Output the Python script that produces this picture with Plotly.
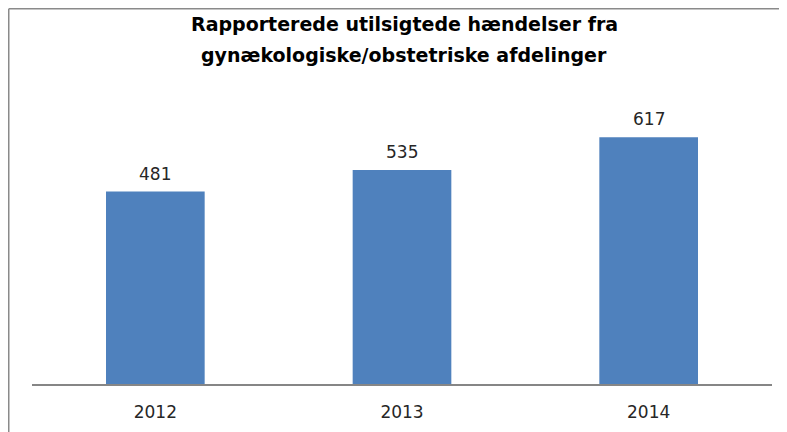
import plotly.graph_objects as go

years = ["2012", "2013", "2014"]
counts = [481, 535, 617]
title_lines = ["Rapporterede utilsigtede hændelser fra", "gynækologiske/obstetriske afdelinger"]

W, H = 787, 432
ml, mr, mt, mb = 24, 23, 96, 56
pw = W - ml - mr
ph = H - mt - mb

def px_x(p):
    return (p - ml) / pw

def px_y(p):
    return (H - mb - p) / ph

fig = go.Figure(go.Bar(
    x=years, y=counts,
    marker=dict(color="#4F81BD", line=dict(width=0)),
    width=0.4,
))

annotations = []
for i, c in enumerate(counts):
    # category axis: numeric x = index of the category in `years`
    annotations.append(dict(
        x=i, y=c, xref="x", yref="y", text=str(c), showarrow=False,
        yanchor="bottom", yshift=6,
        font=dict(family="DejaVu Sans", size=17, color="#262626"),
    ))
for line, yc in zip(title_lines, [16, 47]):
    annotations.append(dict(
        x=px_x(396), y=px_y(yc), xref="paper", yref="paper",
        text="<b>" + line + "</b>", showarrow=False,
        xanchor="center", yanchor="middle",
        font=dict(family="DejaVu Sans", size=19, color="#000000"),
    ))

fig.update_layout(
    width=W, height=H,
    margin=dict(l=ml, r=mr, t=mt, b=mb),
    paper_bgcolor="white", plot_bgcolor="white",
    font=dict(family="DejaVu Sans", color="#262626"),
    showlegend=False,
    xaxis=dict(
        type="category",
        showline=True, linecolor="#868686", linewidth=1.5,
        ticks="outside", ticklen=12, tickcolor="rgba(0,0,0,0)",
        tickfont=dict(family="DejaVu Sans", size=17, color="#262626"),
        showgrid=False,
    ),
    yaxis=dict(range=[0, 700], visible=False, showgrid=False),
    annotations=annotations,
    shapes=[
        dict(type="line", xref="paper", yref="paper",
             x0=px_x(0.75), x1=px_x(0.75), y0=px_y(H + 5), y1=px_y(0.75),
             line=dict(color="#8a8a8a", width=1.5)),
        dict(type="line", xref="paper", yref="paper",
             x0=px_x(0.75), x1=px_x(W + 5), y0=px_y(0.75), y1=px_y(0.75),
             line=dict(color="#8a8a8a", width=1.5)),
    ],
)

fig.write_html("out.html")
